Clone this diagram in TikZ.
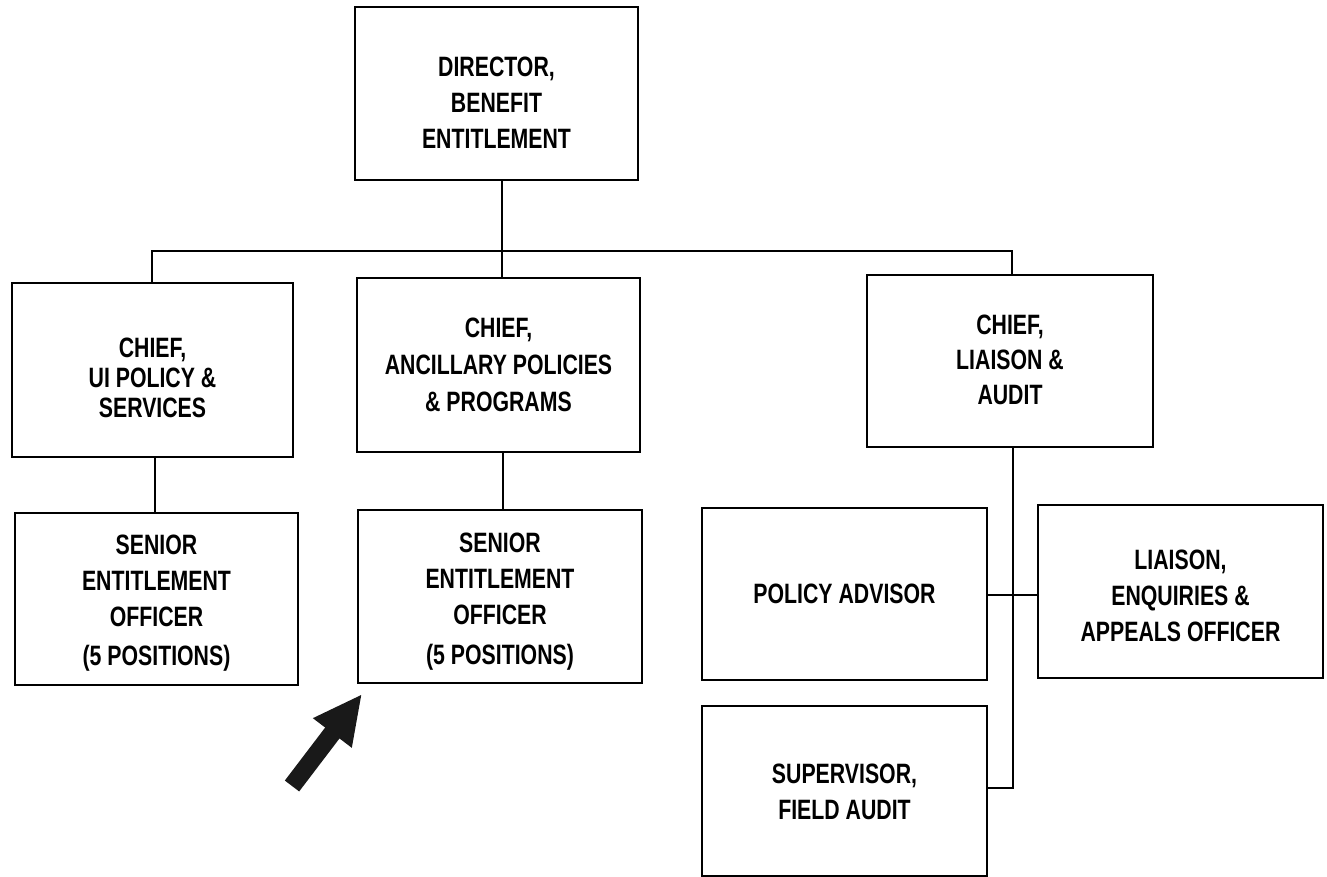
\documentclass[tikz,border=0pt]{standalone}
\usepackage{fontspec}
\setmainfont{Liberation Sans}[FakeStretch=0.76]
\usetikzlibrary{arrows.meta}
\begin{document}
\begin{tikzpicture}[x=1pt,y=-1pt,
  orgbox/.style={draw, line width=2.6pt, rectangle, inner sep=0pt},
  orgtext/.style={align=center, inner sep=0pt,
    font=\fontsize{28}{36}\selectfont\bfseries},
  link/.style={line width=2.6pt}]
\useasboundingbox (0,0) rectangle (1327,877);

% boxes
\node[orgbox, minimum width=283, minimum height=173] (dir) at (496.5,93.5) {};
\node[orgbox, minimum width=281, minimum height=174] (ui) at (152.5,370) {};
\node[orgbox, minimum width=283, minimum height=174] (anc) at (498.5,365) {};
\node[orgbox, minimum width=286, minimum height=172] (la) at (1010,361) {};
\node[orgbox, minimum width=283, minimum height=172] (seo1) at (156.5,599) {};
\node[orgbox, minimum width=284, minimum height=173] (seo2) at (500,596.5) {};
\node[orgbox, minimum width=285, minimum height=172] (pa) at (844.5,594) {};
\node[orgbox, minimum width=285, minimum height=173] (leo) at (1180.5,591.5) {};
\node[orgbox, minimum width=285, minimum height=170] (sup) at (844.5,791) {};

% box titles
\node[orgtext] (dirt) at ([yshift=-9pt]dir.center)
  {DIRECTOR,\\BENEFIT\\ENTITLEMENT};
\node[orgtext, font=\fontsize{28}{30}\selectfont\bfseries] (uit)
  at ([yshift=-8pt]ui.center) {CHIEF,\\UI POLICY \&\\SERVICES};
\node[orgtext, font=\fontsize{28}{37}\selectfont\bfseries] (anct)
  at (anc.center) {CHIEF,\\ANCILLARY POLICIES\\\& PROGRAMS};
\node[orgtext, font=\fontsize{28}{35}\selectfont\bfseries] (lat)
  at ([yshift=1pt]la.center) {CHIEF,\\LIAISON \&\\AUDIT};
\node[orgtext] (seo1t) at ([yshift=-4pt]seo1.center)
  {SENIOR\\ENTITLEMENT\\OFFICER\\[3pt](5 POSITIONS)};
\node[orgtext] (seo2t) at ([yshift=-5pt]seo2.center)
  {SENIOR\\ENTITLEMENT\\OFFICER\\[4pt](5 POSITIONS)};
\node[orgtext] (pat) at (pa.center) {POLICY ADVISOR};
\node[orgtext] (leot) at ([yshift=-4.5pt]leo.center)
  {LIAISON,\\ENQUIRIES \&\\APPEALS OFFICER};
\node[orgtext] (supt) at ([yshift=-1pt]sup.center) {SUPERVISOR,\\FIELD AUDIT};

% reporting lines
\coordinate (busmid) at (502,251);
\coordinate (busl) at (152,251);
\coordinate (busr) at (1012,251);
\draw[link] (dir.south -| busmid) -- (busmid);
\draw[link] (ui.north -| busl) -- (busl) -- (busr) -- (la.north -| busr);
\draw[link] (busmid) -- (anc.north -| busmid);
\coordinate (uidrop) at (155,0);
\draw[link] (ui.south -| uidrop) -- (seo1.north -| uidrop);
\coordinate (ancdrop) at (503,0);
\draw[link] (anc.south -| ancdrop) -- (seo2.north -| ancdrop);
\coordinate (ladrop) at (1013,788);
\draw[link] (la.south -| ladrop) -- (ladrop) -- (sup.east |- ladrop);
\coordinate (side) at (0,595);
\draw[link] (pa.east |- side) -- (leo.west |- side);

% pointer arrow
\coordinate (arrowtail) at (292,786);
\coordinate (arrowtip) at (362,694);
\draw[line width=18pt, black!90,
  -{Triangle[length=49pt,width=45pt]}] (arrowtail) -- (arrowtip);
\end{tikzpicture}
\end{document}
